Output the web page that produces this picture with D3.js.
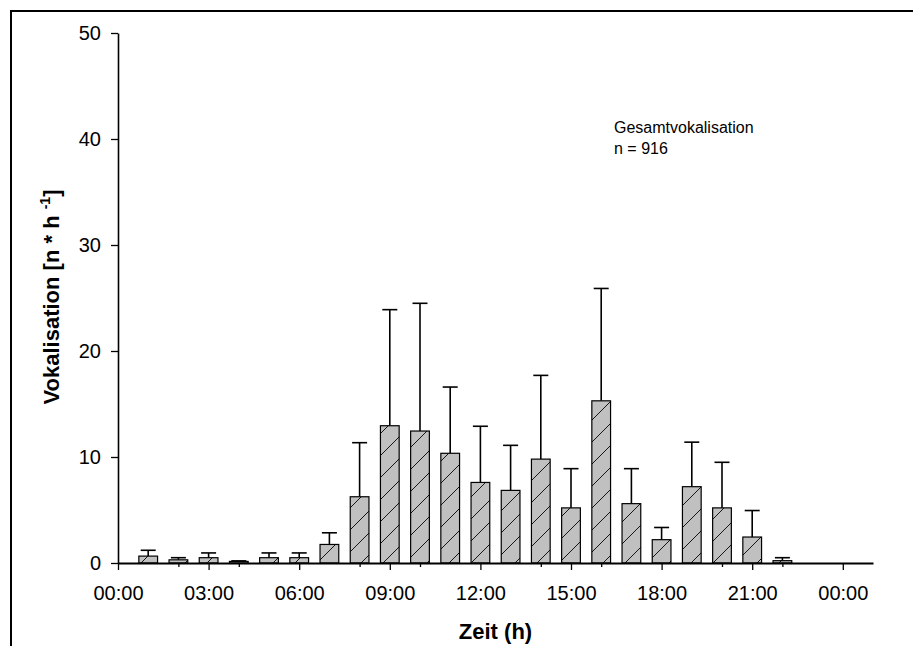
<!DOCTYPE html>
<html>
<head>
<meta charset="utf-8">
<script src="https://cdn.jsdelivr.net/npm/d3@7"></script>
<style>
  html, body { margin: 0; padding: 0; background: #fff; }
  svg { display: block; font-family: "Liberation Sans", Arial, sans-serif; }
</style>
</head>
<body>
<svg id="chart" width="913" height="646"></svg>
<script>
// ---- data ----
const hours = [1,2,3,4,5,6,7,8,9,10,11,12,13,14,15,16,17,18,19,20,21,22];
const means = [0.65,0.3,0.5,0.15,0.5,0.5,1.75,6.25,12.95,12.45,10.35,7.6,6.85,9.8,5.2,15.3,5.6,2.2,7.2,5.2,2.45,0.22];
const upper = [1.2,0.5,0.95,0.2,0.95,0.95,2.85,11.35,23.9,24.5,16.6,12.9,11.1,17.7,8.9,25.9,8.9,3.35,11.4,9.5,4.95,0.5];
const majorTicks = [0,3,6,9,12,15,18,21,24];
const majorLabels = ["00:00","03:00","06:00","09:00","12:00","15:00","18:00","21:00","00:00"];
const minorTicks = [2,4,8,10,14,16,20,22];
const yTicks = [0,10,20,30,40,50];
const legendLines = ["Gesamtvokalisation", "n = 916"];

const svg = d3.select("#chart");

// frame
svg.append("path").attr("d", "M11,646 L11,11 L913,11")
  .attr("fill", "none").attr("stroke", "#000").attr("stroke-width", 2);

const x = d3.scaleLinear().domain([0, 25]).range([118, 873]);
const y = d3.scaleLinear().domain([0, 50]).range([563, 33]);

// hatch pattern
const defs = svg.append("defs");
const pat = defs.append("pattern").attr("id", "hatch")
  .attr("patternUnits", "userSpaceOnUse").attr("width", 22).attr("height", 22);
pat.append("rect").attr("width", 22).attr("height", 22).attr("fill", "#c0c0c0");
pat.append("path").attr("d", "M-2,24 L24,-2 M-24,24 L2,-2 M20,24 L46,-2")
  .attr("stroke", "#000").attr("stroke-width", 0.9);

const barW = (x(1) - x(0)) * 0.62;
const capW = 15;

// error bars (upper only)
const eg = svg.append("g").attr("stroke", "#000").attr("stroke-width", 1.6);
hours.forEach((h, i) => {
  eg.append("line").attr("x1", x(h)).attr("x2", x(h))
    .attr("y1", y(means[i])).attr("y2", y(upper[i]));
  eg.append("line").attr("x1", x(h) - capW/2).attr("x2", x(h) + capW/2)
    .attr("y1", y(upper[i])).attr("y2", y(upper[i]));
});

// bars
svg.append("g").selectAll("rect").data(hours).join("rect")
  .attr("x", h => x(h) - barW/2)
  .attr("width", barW)
  .attr("y", (h, i) => y(means[i]))
  .attr("height", (h, i) => y(0) - y(means[i]))
  .attr("fill", "url(#hatch)")
  .attr("stroke", "#000").attr("stroke-width", 1.2);

// y axis
const yAxis = svg.append("g").attr("transform", `translate(${x(0)},0)`)
  .call(d3.axisLeft(y).tickValues(yTicks).tickSize(7).tickPadding(10).tickSizeOuter(0));
yAxis.select(".domain").attr("stroke-width", 1.6);
yAxis.selectAll(".tick line").attr("stroke-width", 1.3);
yAxis.selectAll("text").attr("font-size", "20px").attr("font-family", "Liberation Sans, Arial, sans-serif").attr("fill", "#000");

// x axis major
const xAxis = svg.append("g").attr("transform", `translate(0,${y(0)})`)
  .call(d3.axisBottom(x).tickValues(majorTicks).tickFormat((d, i) => majorLabels[i])
    .tickSize(7).tickPadding(16).tickSizeOuter(0));
xAxis.select(".domain").attr("stroke-width", 2);
xAxis.selectAll(".tick line").attr("stroke-width", 1.3);
xAxis.selectAll("text").attr("font-size", "20px").attr("font-family", "Liberation Sans, Arial, sans-serif").attr("fill", "#000");

// x axis minor
svg.append("g").attr("transform", `translate(0,${y(0)})`)
  .call(d3.axisBottom(x).tickValues(minorTicks).tickFormat("").tickSize(4).tickSizeOuter(0))
  .call(g => g.select(".domain").remove())
  .selectAll(".tick line").attr("stroke-width", 1.3);

// axis titles
svg.append("text").attr("x", (x(0) + x(25)) / 2).attr("y", 639)
  .attr("text-anchor", "middle").attr("font-size", "22px").attr("font-weight", "bold")
  .text("Zeit (h)");

const yt = svg.append("text")
  .attr("transform", "translate(59,297) rotate(-90)")
  .attr("text-anchor", "middle").attr("font-size", "22px").attr("font-weight", "bold");
yt.append("tspan").text("Vokalisation [n * h ");
yt.append("tspan").attr("font-size", "14px").attr("dy", "-9").text("-1");
yt.append("tspan").attr("dy", "9").text("]");

// legend text
legendLines.forEach((t, i) => {
  svg.append("text").attr("x", 614).attr("y", 133 + i * 21)
    .attr("font-size", "16px").attr("fill", "#000").text(t);
});
</script>
</body>
</html>
